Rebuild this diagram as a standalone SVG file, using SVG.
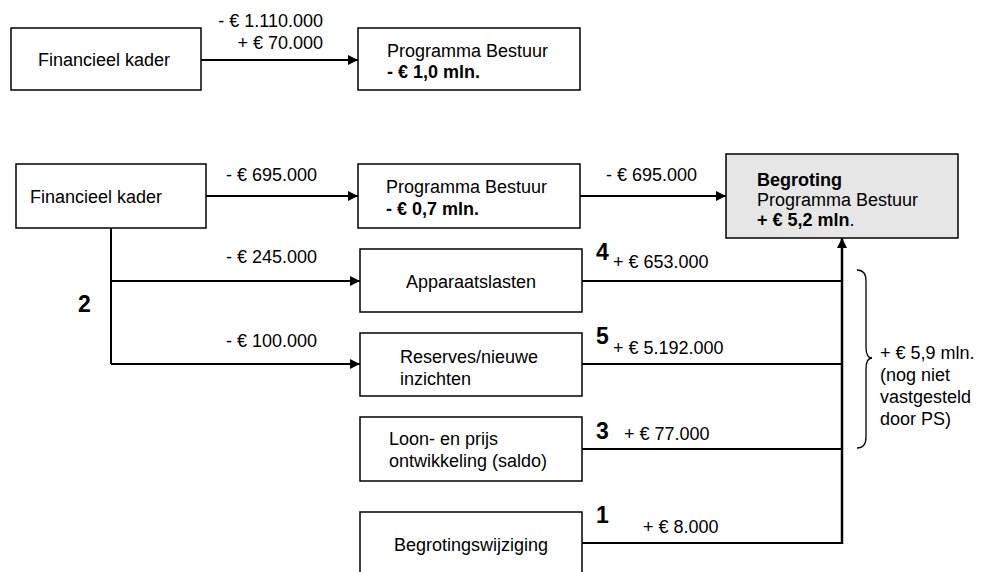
<svg xmlns="http://www.w3.org/2000/svg" width="981" height="572" viewBox="0 0 981 572">
<style>
text{font-family:"Liberation Sans",Arial,sans-serif;font-size:18px;fill:#000}
.b{font-weight:bold}
.n{font-weight:bold;font-size:23px}
.box{fill:#fff;stroke:#000;stroke-width:1.5}
.grey{fill:#e6e6e6;stroke:#000;stroke-width:1.5}
.ln{fill:none;stroke:#000;stroke-width:2}
.thk{fill:none;stroke:#000;stroke-width:2.5}
</style>
<defs>
<marker id="ah" viewBox="0 0 10 10" refX="10" refY="5" markerWidth="5.5" markerHeight="5" orient="auto" markerUnits="strokeWidth"><path d="M0,0 L10,5 L0,10 z" fill="#000"/></marker>
<marker id="ah2" viewBox="0 0 10 10" refX="10" refY="5" markerWidth="4.5" markerHeight="4" orient="auto" markerUnits="strokeWidth"><path d="M0,0 L10,5 L0,10 z" fill="#000"/></marker>
</defs>

<g id="connectors">
<line class="ln" x1="201" y1="60" x2="358" y2="60" marker-end="url(#ah)"/>
<line class="ln" x1="206" y1="196" x2="358" y2="196" marker-end="url(#ah)"/>
<line class="ln" x1="580" y1="196" x2="726" y2="196" marker-end="url(#ah)"/>
<polyline class="ln" points="111,228 111,364"/>
<line class="ln" x1="111" y1="281" x2="360" y2="281" marker-end="url(#ah)"/>
<line class="ln" x1="111" y1="364" x2="360" y2="364" marker-end="url(#ah)"/>
<line class="ln" x1="582" y1="281" x2="842" y2="281"/>
<line class="ln" x1="582" y1="364" x2="842" y2="364"/>
<line class="ln" x1="582" y1="449" x2="842" y2="449"/>
<line class="ln" x1="582" y1="543" x2="843" y2="543"/>
<line class="thk" x1="842" y1="544" x2="842" y2="238" marker-end="url(#ah2)"/>
<path d="M857,270 Q866,270 866,281 L866,347 Q866,358 872,358 Q866,358 866,369 L866,437 Q866,448 857,448" fill="none" stroke="#000" stroke-width="1.3"/>
</g>

<g id="labels">
<text x="323" y="27" text-anchor="end">- € 1.110.000</text>
<text x="323" y="49" text-anchor="end">+ € 70.000</text>
<text x="226" y="181">- € 695.000</text>
<text x="606" y="181">- € 695.000</text>
<text x="226" y="263">- € 245.000</text>
<text x="226" y="347">- € 100.000</text>
<text class="n" x="78" y="312">2</text>
<text class="n" x="596" y="260">4</text>
<text x="613" y="268">+ € 653.000</text>
<text class="n" x="596" y="344">5</text>
<text x="613" y="354">+ € 5.192.000</text>
<text class="n" x="596" y="439">3</text>
<text x="624" y="440">+ € 77.000</text>
<text class="n" x="596" y="523">1</text>
<text x="643" y="533">+ € 8.000</text>
<text x="880" y="359">+ € 5,9 mln.</text>
<text x="880" y="381">(nog niet</text>
<text x="880" y="403">vastgesteld</text>
<text x="880" y="425">door PS)</text>
</g>

<g id="fin1">
<rect class="box" x="11" y="28" width="190" height="62"/>
<text x="38" y="66">Financieel kader</text>
</g>
<g id="prog1">
<rect class="box" x="358" y="28" width="222" height="62"/>
<text x="387" y="57">Programma Bestuur</text>
<text class="b" x="387" y="78">- € 1,0 mln.</text>
</g>
<g id="fin2">
<rect class="box" x="16" y="164" width="190" height="64"/>
<text x="30" y="203">Financieel kader</text>
</g>
<g id="prog2">
<rect class="box" x="358" y="164" width="222" height="64"/>
<text x="386" y="193">Programma Bestuur</text>
<text class="b" x="386" y="215">- € 0,7 mln.</text>
</g>
<g id="begroting">
<rect class="grey" x="726" y="154" width="232" height="84"/>
<text class="b" x="757" y="186">Begroting</text>
<text x="757" y="206">Programma Bestuur</text>
<text x="757" y="226"><tspan class="b">+ € 5,2 mln</tspan>.</text>
</g>
<g id="apparaat">
<rect class="box" x="360" y="249" width="222" height="63"/>
<text x="471" y="288" text-anchor="middle">Apparaatslasten</text>
</g>
<g id="reserves">
<rect class="box" x="360" y="333" width="222" height="63"/>
<text x="400" y="363">Reserves/nieuwe</text>
<text x="400" y="385">inzichten</text>
</g>
<g id="loon">
<rect class="box" x="360" y="417" width="222" height="64"/>
<text x="389" y="445">Loon- en prijs</text>
<text x="389" y="467">ontwikkeling (saldo)</text>
</g>
<g id="wijziging">
<rect class="box" x="360" y="512" width="222" height="70"/>
<text x="471" y="551" text-anchor="middle">Begrotingswijziging</text>
</g>
</svg>
